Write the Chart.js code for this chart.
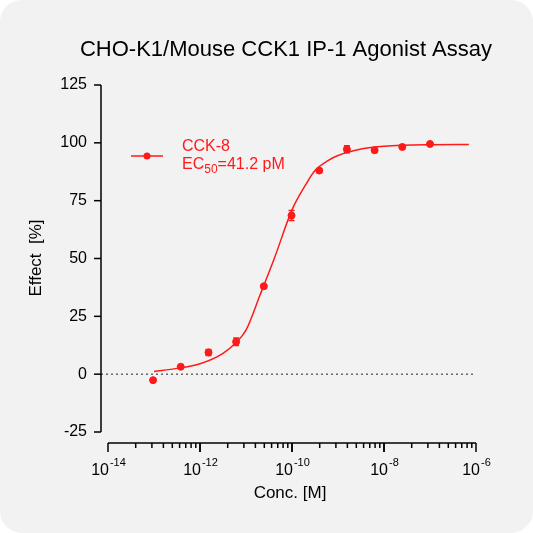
<!DOCTYPE html>
<html><head><meta charset="utf-8">
<script src="https://cdn.jsdelivr.net/npm/chart.js@4/dist/chart.umd.min.js"></script>
<style>
html,body{margin:0;padding:0;background:#fff}
#wrap{position:absolute;left:0;top:0;width:533px;height:533px}
</style></head>
<body><div id="wrap"><canvas id="myChart" width="533" height="533"></canvas></div>
<script>
// measured points (1:4 dilution from 100 nM)
var concs = [9.54e-14, 3.81e-13, 1.53e-12, 6.10e-12, 2.44e-11, 9.77e-11, 3.91e-10, 1.56e-9, 6.25e-9, 2.5e-8, 1e-7];
var effect = [-2.6, 3.2, 9.4, 14.0, 38.0, 68.6, 88.0, 97.2, 96.8, 98.2, 99.5];
var errs = [0.3, 0.5, 1.3, 1.6, 0.6, 2.2, 0.6, 1.5, 0.5, 0.5, 0.5];
// fitted curve
var curveX = [1e-13, 3.16e-13, 1e-12, 3.16e-12, 6.3e-12, 1e-11, 2e-11, 4.12e-11, 1e-10, 2e-10, 3.16e-10, 6.3e-10, 1e-9, 3.16e-9, 1e-8, 1e-7, 7e-7];
var curveY = [1.2, 2.5, 4.5, 9, 14, 19, 34, 50, 71, 82, 88, 92.5, 94.5, 97.3, 98.5, 99.2, 99.3];
var yTicks = [-25, 0, 25, 50, 75, 100, 125];
var xMajor = [-14, -12, -10, -8, -6];
var red = '#ff1a1a';
var font = '"Liberation Sans", Arial, sans-serif';

var deco = {
  id: 'deco',
  beforeDraw: function(c){
    var g = c.ctx;
    g.save();
    g.fillStyle = '#fff'; g.fillRect(0,0,533,533);
    g.fillStyle = '#f2f2f2';
    g.beginPath(); g.roundRect(0,0,533,533,22); g.fill();
    g.restore();
  },
  afterDatasetsDraw: function(c){
    var g = c.ctx, xs = c.scales.x, ys = c.scales.y;
    g.save();
    // error bars
    g.strokeStyle = red; g.lineWidth = 1.5;
    for (var i = 0; i < concs.length; i++){
      var px = xs.getPixelForValue(concs[i]);
      var a = ys.getPixelForValue(effect[i]+errs[i]), b = ys.getPixelForValue(effect[i]-errs[i]);
      g.beginPath(); g.moveTo(px,a); g.lineTo(px,b);
      g.moveTo(px-3,a); g.lineTo(px+3,a); g.moveTo(px-3,b); g.lineTo(px+3,b); g.stroke();
    }
    // zero line
    g.strokeStyle = '#222'; g.lineWidth = 1; g.setLineDash([2,3]);
    var y0 = ys.getPixelForValue(0);
    g.beginPath(); g.moveTo(101,y0); g.lineTo(473,y0); g.stroke();
    g.setLineDash([]);
    // y axis
    g.lineWidth = 1.5; g.strokeStyle = '#000';
    g.beginPath(); g.moveTo(101,ys.getPixelForValue(125)); g.lineTo(101,ys.getPixelForValue(-25)); g.stroke();
    g.fillStyle = '#000'; g.font = '16px ' + font; g.textAlign = 'right'; g.textBaseline = 'middle';
    yTicks.forEach(function(t){
      var py = ys.getPixelForValue(t);
      g.beginPath(); g.moveTo(94,py); g.lineTo(101,py); g.stroke();
      g.fillText(String(t), 87, py);
    });
    // x axis
    var ya = 443;
    g.beginPath(); g.moveTo(xs.getPixelForValue(1e-14),ya); g.lineTo(xs.getPixelForValue(1e-6),ya); g.stroke();
    for (var d = -14; d < -6; d += 2){
      for (var k = 1; k <= 10; k++){
        var px = xs.getPixelForValue(Math.pow(10, d + 2*Math.log10(k)));
        var len = (k == 1 || k == 10) ? 9 : 5;
        g.beginPath(); g.moveTo(px,ya); g.lineTo(px,ya+len); g.stroke();
      }
    }
    g.textBaseline = 'alphabetic';
    xMajor.forEach(function(e){
      var px = xs.getPixelForValue(Math.pow(10,e));
      g.font = '16px ' + font;
      var w1 = g.measureText('10').width;
      g.font = '11px ' + font;
      var w2 = g.measureText(String(e)).width;
      var x0 = px - (w1+w2)/2;
      g.textAlign = 'left';
      g.font = '16px ' + font; g.fillText('10', x0, 475);
      g.font = '11px ' + font; g.fillText(String(e), x0+w1+1, 466);
    });
    // axis titles
    g.font = '17px ' + font; g.textAlign = 'center';
    g.fillText('Conc. [M]', 290, 498);
    g.save(); g.translate(41, 258); g.rotate(-Math.PI/2); g.fillText('Effect  [%]', 0, 0); g.restore();
    g.font = '22px ' + font;
    g.fillText('CHO-K1/Mouse CCK1 IP-1 Agonist Assay', 286, 56);
    // legend
    g.strokeStyle = red; g.fillStyle = red; g.lineWidth = 1.5;
    g.beginPath(); g.moveTo(131,156); g.lineTo(163,156); g.stroke();
    g.beginPath(); g.arc(147,156,3.5,0,2*Math.PI); g.fill();
    g.textAlign = 'left'; g.font = '16px ' + font;
    g.fillText('CCK-8', 182, 151);
    g.fillText('EC', 182, 169);
    var w = g.measureText('EC').width;
    g.font = '12px ' + font; g.fillText('50', 182+w, 173);
    var w3 = g.measureText('50').width;
    g.font = '16px ' + font; g.fillText('=41.2 pM', 182+w+w3, 169);
    g.restore();
  }
};

window.onload = function(){
  var ctx = document.getElementById('myChart').getContext('2d');
  new Chart(ctx, {
    type: 'scatter',
    data: {
      datasets: [
        { data: concs.map(function(x,i){ return {x:x, y:effect[i]}; }),
          backgroundColor: red, borderColor: red, pointRadius: 3.5, showLine: false },
        { data: curveX.map(function(x,i){ return {x:x, y:curveY[i]}; }),
          borderColor: red, borderWidth: 1.5, pointRadius: 0, showLine: true, cubicInterpolationMode: 'monotone', fill: false }
      ]
    },
    options: {
      responsive: false, animation: false,
      layout: { padding: { left: 108, right: 57, top: 85, bottom: 101 } },
      plugins: { legend: { display: false }, tooltip: { enabled: false } },
      scales: {
        x: { type: 'logarithmic', min: 1e-14, max: 1e-6, display: false },
        y: { min: -25, max: 125, display: false }
      }
    },
    plugins: [deco]
  });
};
</script>
</body></html>
